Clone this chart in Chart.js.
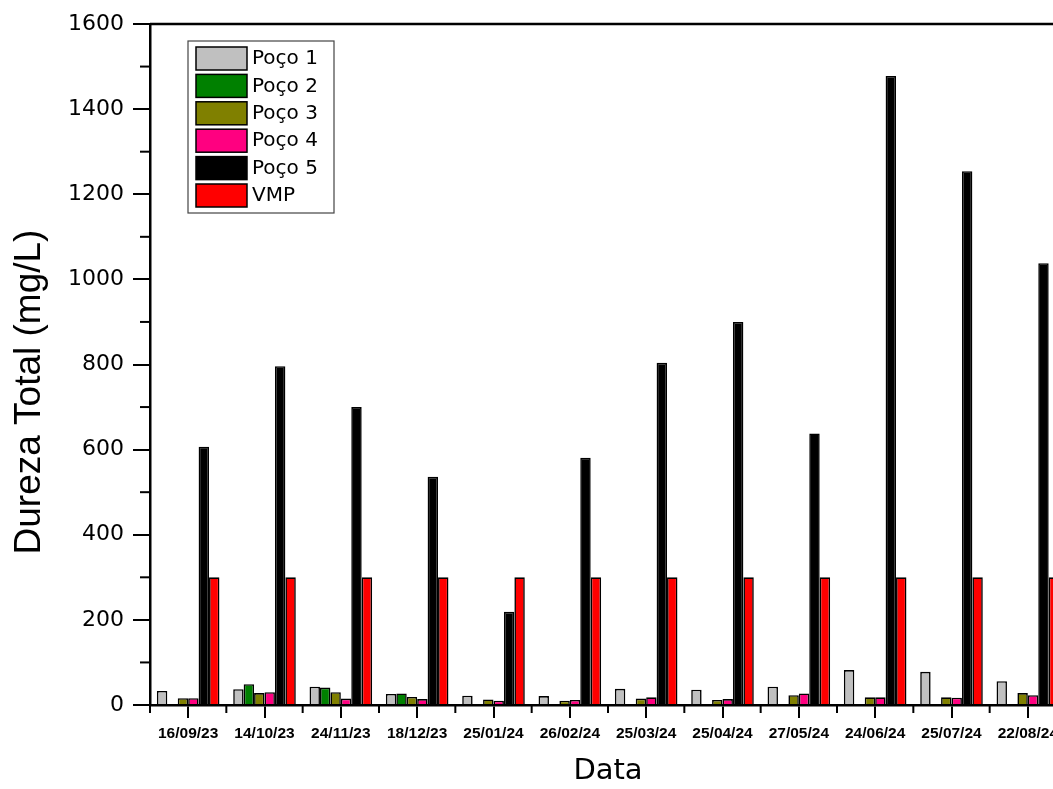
<!DOCTYPE html>
<html>
<head>
<meta charset="utf-8">
<script src="https://cdn.jsdelivr.net/npm/chart.js@4/dist/chart.umd.min.js"></script>
<style>
  html, body { margin: 0; padding: 0; background: #fff; overflow: hidden; }
  #wrap { width: 1053px; height: 789px; overflow: hidden; position: relative; }
  canvas { display: block; }
</style>
</head>
<body>
<div id="wrap"><canvas id="c" width="1072" height="789"></canvas></div>
<script>
const categories = ['16/09/23','14/10/23','24/11/23','18/12/23','25/01/24','26/02/24','25/03/24','25/04/24','27/05/24','24/06/24','25/07/24','22/08/24'];
const poco1 = [33, 37, 43, 26, 22, 21, 38, 36, 43, 82, 78, 56];
const poco2 = [0, 49, 41, 27, 0, 0, 0, 0, 0, 0, 0, 0];
const poco3 = [16, 28, 30, 19, 13, 10, 15, 12, 23, 18, 18, 28];
const poco4 = [16, 30, 15, 14, 10, 12, 18, 14, 27, 18, 17, 23];
const poco5 = [607, 796, 700, 536, 219, 581, 804, 900, 638, 1478, 1254, 1038];
const vmp = [300, 300, 300, 300, 300, 300, 300, 300, 300, 300, 300, 300];
const seriesNames = ['Poço 1','Poço 2','Poço 3','Poço 4','Poço 5','VMP'];
const seriesColors = ['#c0c0c0','#008000','#808000','#ff0080','#000000','#ff0000'];
const yTicks = [0, 200, 400, 600, 800, 1000, 1200, 1400, 1600];
const yTitle = 'Dureza Total (mg/L)';
const xTitle = 'Data';

const seriesData = [poco1, poco2, poco3, poco4, poco5, vmp];
const datasets = seriesData.map((d, i) => ({
  label: seriesNames[i],
  data: d,
  backgroundColor: seriesColors[i],
  borderColor: '#000',
  borderWidth: 1.6,
  categoryPercentage: 0.82,
  barPercentage: 1.0
}));

const decoPlugin = {
  id: 'deco',
  afterDraw(chart) {
    const ctx = chart.ctx;
    const ca = chart.chartArea;
    const x = chart.scales.x, y = chart.scales.y;
    ctx.save();
    ctx.strokeStyle = '#000';
    ctx.lineWidth = 2.5;
    // top frame line
    ctx.beginPath();
    ctx.moveTo(ca.left, ca.top);
    ctx.lineTo(ca.right, ca.top);
    ctx.stroke();
    ctx.lineWidth = 2;
    // y minor ticks
    for (let i = 0; i < yTicks.length - 1; i++) {
      const v = (yTicks[i] + yTicks[i + 1]) / 2;
      const py = y.getPixelForValue(v);
      ctx.beginPath();
      ctx.moveTo(ca.left - 10, py);
      ctx.lineTo(ca.left, py);
      ctx.stroke();
    }
    // x minor ticks at category boundaries
    for (let i = 0; i <= categories.length; i++) {
      const px = x.getPixelForValue(i - 0.5);
      ctx.beginPath();
      ctx.moveTo(px, ca.bottom);
      ctx.lineTo(px, ca.bottom + 8);
      ctx.stroke();
    }
    // y axis title
    ctx.save();
    ctx.translate(30, 392);
    ctx.rotate(-Math.PI / 2);
    ctx.font = '37px "Liberation Sans", Arial, sans-serif';
    ctx.fillStyle = '#000';
    ctx.textAlign = 'center';
    ctx.textBaseline = 'middle';
    ctx.fillText(yTitle, 0, 0);
    ctx.restore();
    // legend box
    const lx = ca.left + 38, ly = ca.top + 17, lw = 146, lh = 172;
    ctx.fillStyle = '#fff';
    ctx.fillRect(lx, ly, lw, lh);
    ctx.lineWidth = 1.2;
    ctx.strokeStyle = '#444';
    ctx.strokeRect(lx, ly, lw, lh);
    ctx.font = '20px "DejaVu Sans", sans-serif';
    ctx.textBaseline = 'middle';
    ctx.textAlign = 'left';
    chart.data.datasets.forEach((ds, i) => {
      const ry = ly + 6 + i * 27.4;
      ctx.fillStyle = ds.backgroundColor;
      ctx.fillRect(lx + 8, ry, 51, 23);
      ctx.strokeStyle = '#000';
      ctx.lineWidth = 1.5;
      ctx.strokeRect(lx + 8, ry, 51, 23);
      ctx.fillStyle = '#000';
      ctx.fillText(ds.label, lx + 64, ry + 12);
    });
    ctx.restore();
  }
};

new Chart(document.getElementById('c'), {
  type: 'bar',
  data: { labels: categories, datasets: datasets },
  plugins: [decoPlugin],
  options: {
    responsive: false,
    devicePixelRatio: 1,
    animation: false,
    layout: { padding: { left: 9, top: 24, right: 6, bottom: 0 } },
    plugins: { legend: { display: false }, tooltip: { enabled: false } },
    scales: {
      x: {
        offset: true,
        grid: { display: true, offset: false, drawOnChartArea: false, drawTicks: true, tickLength: 13, color: '#000', lineWidth: 2 },
        border: { display: true, color: '#000', width: 2.5 },
        ticks: { color: '#000', padding: 6, maxRotation: 0, autoSkip: false, font: { family: '"Liberation Sans", Arial, sans-serif', size: 15.5, weight: 'bold' } },
        title: { display: true, text: xTitle, color: '#000', padding: 0, font: { family: '"DejaVu Sans", sans-serif', size: 29, weight: 'normal' } },
        afterFit(s) { s.height = 84; }
      },
      y: {
        min: 0, max: 1600,
        afterBuildTicks(s) { s.ticks = yTicks.map(v => ({ value: v })); },
        grid: { display: true, drawOnChartArea: false, drawTicks: true, tickLength: 17, color: '#000', lineWidth: 2 },
        border: { display: true, color: '#000', width: 2.5 },
        ticks: { color: '#000', padding: 9, font: { family: '"DejaVu Sans", sans-serif', size: 22 }, callback: v => String(v) },
        title: { display: false, text: yTitle },
        afterFit(s) { s.width = 141; }
      }
    }
  }
});
</script>
</body>
</html>
